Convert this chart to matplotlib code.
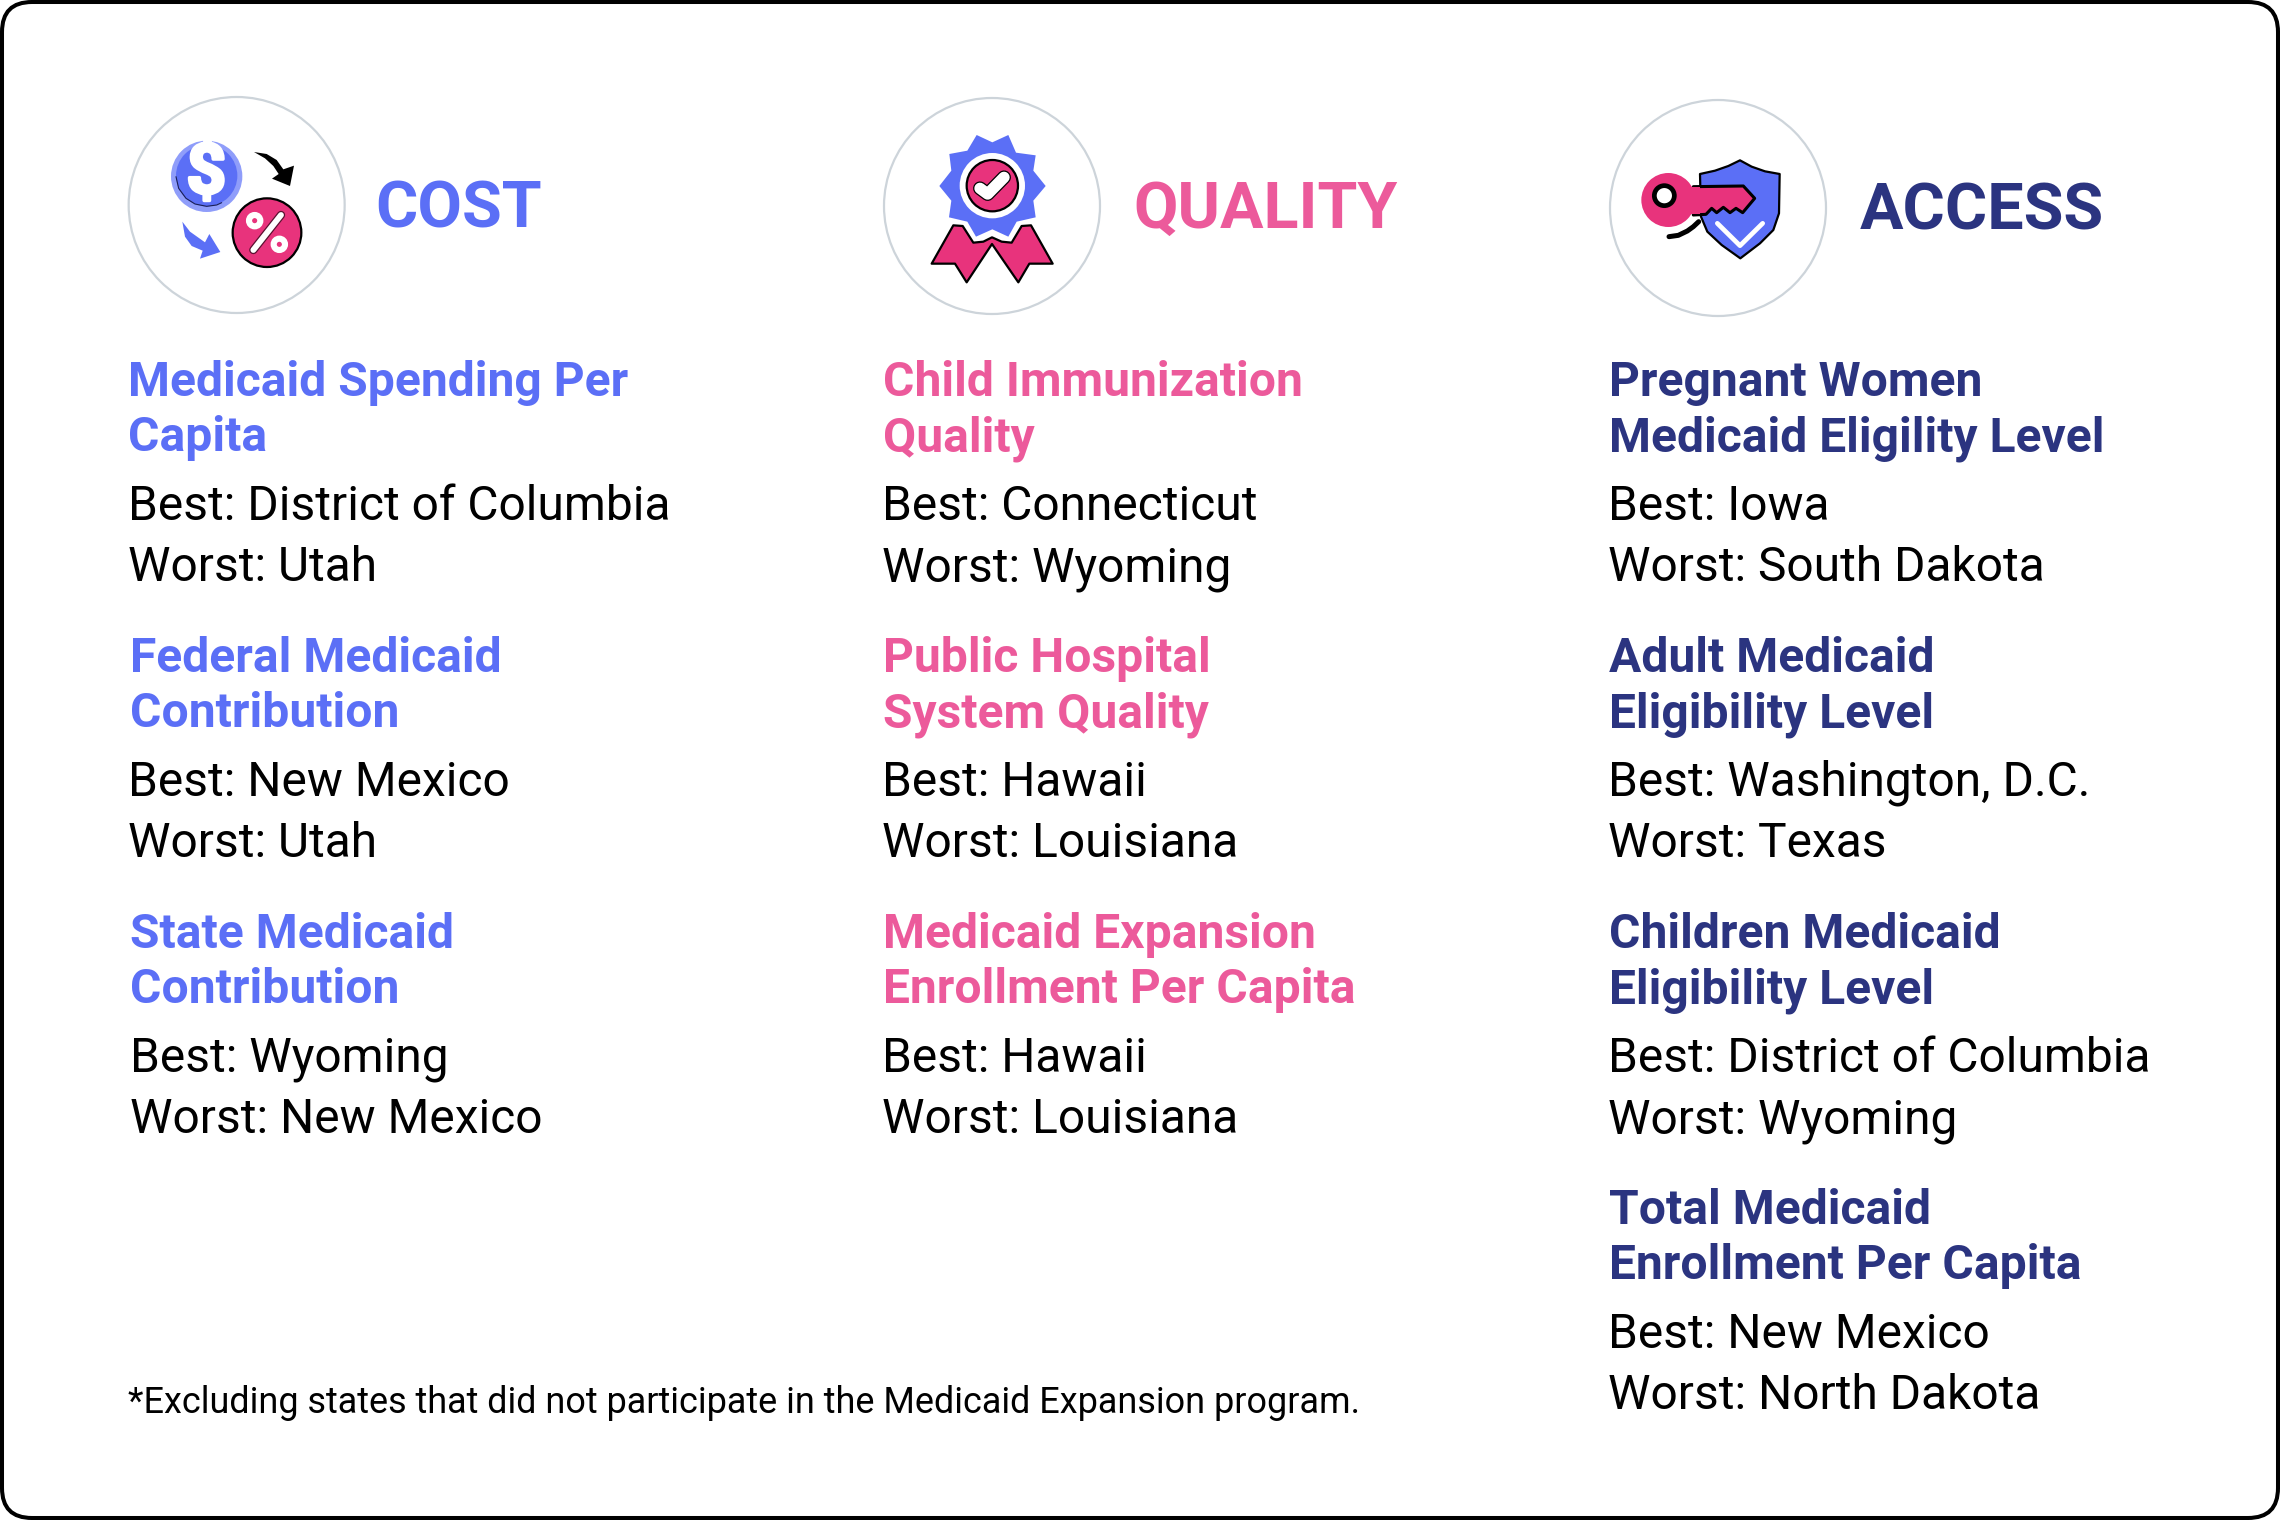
import numpy as np
from matplotlib import pyplot as plt
from matplotlib import patheffects
from matplotlib.patches import Circle, Polygon, FancyBboxPatch

plt.rcParams['font.family'] = ['Roboto', 'DejaVu Sans']

BLUE = '#5b6ff6'
PINK = '#ec5a9b'
NAVY = '#2b3480'
HOT = '#e8337c'
RING = '#cdd4da'

section_titles = ['COST', 'QUALITY', 'ACCESS']
cost_metrics = ['Medicaid Spending Per\nCapita', 'Federal Medicaid\nContribution', 'State Medicaid\nContribution']
cost_best = ['District of Columbia', 'New Mexico', 'Wyoming']
cost_worst = ['Utah', 'Utah', 'New Mexico']
quality_metrics = ['Child Immunization\nQuality', 'Public Hospital\nSystem Quality', 'Medicaid Expansion\nEnrollment Per Capita']
quality_best = ['Connecticut', 'Hawaii', 'Hawaii']
quality_worst = ['Wyoming', 'Louisiana', 'Louisiana']
access_metrics = ['Pregnant Women\nMedicaid Eligility Level', 'Adult Medicaid\nEligibility Level',
                  'Children Medicaid\nEligibility Level', 'Total Medicaid\nEnrollment Per Capita']
access_best = ['Iowa', 'Washington, D.C.', 'District of Columbia', 'New Mexico']
access_worst = ['South Dakota', 'Texas', 'Wyoming', 'North Dakota']
footnote = '*Excluding states that did not participate in the Medicaid Expansion program.'

fig = plt.figure(figsize=(22.8, 15.2), dpi=100)
ax = fig.add_axes([0, 0, 1, 1])
ax.set_xlim(0, 2280)
ax.set_ylim(1520, 0)
ax.axis('off')

# outer frame
ax.add_patch(FancyBboxPatch((30, 30), 2220, 1460, boxstyle='round,pad=28,rounding_size=30',
                            fc='white', ec='black', lw=2.9))


def zoomed(points, x0, y0):
    return [(x0 + px / 3, y0 + py / 3) for px, py in points]


def poly(points, x0, y0, fc, ec='none', lw=1.6, z=3):
    ax.add_patch(Polygon(zoomed(points, x0, y0), closed=True, fc=fc, ec=ec, lw=lw, zorder=z, joinstyle='round'))


def line(points, x0, y0, color, lw, z=5):
    pts = np.array(zoomed(points, x0, y0))
    ax.plot(pts[:, 0], pts[:, 1], color=color, lw=lw, zorder=z, solid_capstyle='round', solid_joinstyle='round')


def circ(cx, cy, r, x0, y0, fc, ec='none', lw=1.6, z=3):
    ax.add_patch(Circle((x0 + cx / 3, y0 + cy / 3), r / 3, fc=fc, ec=ec, lw=lw, zorder=z))


def cost_icon():
    x0, y0 = 110, 80
    circ(380, 375, 324, x0, y0, 'white', RING, 1.6, z=2)
    circ(290, 289, 107, x0, y0, '#8f9dfa')
    circ(290, 287, 92, x0, y0, BLUE)
    line([(198, 290), (206, 325), (228, 355), (255, 372), (290, 379), (320, 375), (335, 368)], x0, y0, '#1a1f55', 0.8, z=4)
    dollar = ax.text(x0 + 289 / 3, y0 + 284 / 3, '$', color='white', fontsize=50, fontweight='bold',
                     ha='center', va='center', zorder=5)
    dollar.set_path_effects([patheffects.withStroke(linewidth=2.5, foreground='white')])
    circ(471, 458, 103, x0, y0, HOT, 'black', 1.6)
    line([(430, 510), (513, 405)], x0, y0, '#5a1030', 6.0, z=4)
    line([(430, 510), (513, 405)], x0, y0, 'white', 4.2)
    circ(434, 422, 17, x0, y0, HOT, 'white', 4.4, z=5)
    circ(508, 493, 17, x0, y0, HOT, 'white', 4.4, z=5)
    poly([(432, 216), (470, 222), (500, 240), (520, 268), (552, 257), (540, 318), (486, 296), (506, 282), (490, 258), (465, 235)],
         x0, y0, 'black')
    poly([(217, 425), (240, 455), (285, 487), (298, 462), (331, 516), (270, 536), (278, 512), (245, 498), (225, 470)],
         x0, y0, BLUE)


def quality_icon():
    x0, y0 = 870, 80
    circ(366, 378, 324, x0, y0, 'white', RING, 1.6, z=2)
    ribbon = [(185, 551), (250, 436), (278, 438), (310, 488), (340, 485), (366, 472), (395, 485), (425, 488), (455, 438),
              (483, 436), (548, 551), (478, 551), (445, 607), (366, 492), (290, 607), (255, 551)]
    poly(ribbon, x0, y0, HOT, 'black', 1.6)
    # rosette
    rosette = [(320, 165), (367, 187), (415, 165), (438, 218), (497, 226), (490, 272), (527, 318), (490, 362), (497, 412),
               (440, 425), (415, 470), (367, 448), (318, 470), (292, 425), (237, 412), (244, 362), (208, 318), (244, 272), (238, 222), (292, 212)]
    poly(rosette, x0, y0, BLUE, z=4)
    circ(367, 317, 98, x0, y0, 'white', z=5)
    circ(367, 317, 77, x0, y0, HOT, 'black', 1.6, z=6)
    line([(330, 325), (353, 342), (402, 292)], x0, y0, 'black', 10.0, z=7)
    line([(330, 325), (353, 342), (402, 292)], x0, y0, 'white', 8.2, z=8)


def access_icon():
    x0, y0 = 1600, 80
    circ(354, 384, 324, x0, y0, 'white', RING, 1.6, z=2)
    shield = [(300, 282), (345, 272), (385, 258), (420, 241), (455, 260), (495, 274), (539, 282), (537, 400), (520, 450),
              (480, 490), (421, 535), (365, 495), (322, 455), (303, 410)]
    poly(shield, x0, y0, BLUE, 'black', 1.6)
    line([(352, 430), (420, 497), (488, 430)], x0, y0, 'white', 3.4)
    line([(207, 470), (235, 466), (262, 453), (280, 440), (296, 425)], x0, y0, 'black', 3.6)
    key = [(280, 320), (430, 318), (464, 355), (428, 398), (408, 385), (390, 398), (370, 382), (350, 398), (335, 385), (318, 403), (280, 405)]
    poly(key, x0, y0, HOT, 'black', 2.2, z=4)
    circ(205, 360, 81, x0, y0, HOT, z=5)
    ax.add_patch(Polygon(zoomed([(262, 322), (300, 322), (300, 402), (262, 402)], x0, y0), fc=HOT, ec='none', zorder=5))
    circ(193, 347, 30, x0, y0, 'white', 'black', 3.4, z=6)


cost_icon()
quality_icon()
access_icon()

# section headers
title_colors = [BLUE, PINK, NAVY]
title_x = [375, 1133, 1860]
title_y = [228, 228, 230]
for name, color, x, y in zip(section_titles, title_colors, title_x, title_y):
    ax.text(x, y, name, color=color, fontsize=46.5, fontweight='bold', va='baseline', ha='left')

HEAD_SIZE = 34.6
BODY_SIZE = 34.5
LINE_1 = 395.5
LINE_2 = 451
BEST = 519.5
WORST = 581
BLOCK_STEP = 276


def column(metrics, best, worst, x, color, head_dx=(0, 0, 0, 0), body_dx=(0, 0, 0, 0)):
    for i, metric in enumerate(metrics):
        dy = i * BLOCK_STEP
        first, second = metric.split('\n')
        ax.text(x + head_dx[i], LINE_1 + dy, first, color=color, fontsize=HEAD_SIZE, fontweight='bold', va='baseline')
        ax.text(x + head_dx[i], LINE_2 + dy, second, color=color, fontsize=HEAD_SIZE, fontweight='bold', va='baseline')
        ax.text(x + body_dx[i], BEST + dy, 'Best: ' + best[i], color='black', fontsize=BODY_SIZE, va='baseline')
        ax.text(x + body_dx[i], WORST + dy, 'Worst: ' + worst[i], color='black', fontsize=BODY_SIZE, va='baseline')


column(cost_metrics, cost_best, cost_worst, 128, BLUE, head_dx=(0, 2, 2, 0), body_dx=(0, 0, 2, 0))
column(quality_metrics, quality_best, quality_worst, 883, PINK, body_dx=(-1, -1, -1, -1))
column(access_metrics, access_best, access_worst, 1609, NAVY, body_dx=(-1, -1, -1, -1))

ax.text(128, 1413, footnote, color='black', fontsize=25.9, va='baseline')

fig.savefig('out.png', dpi=100)
